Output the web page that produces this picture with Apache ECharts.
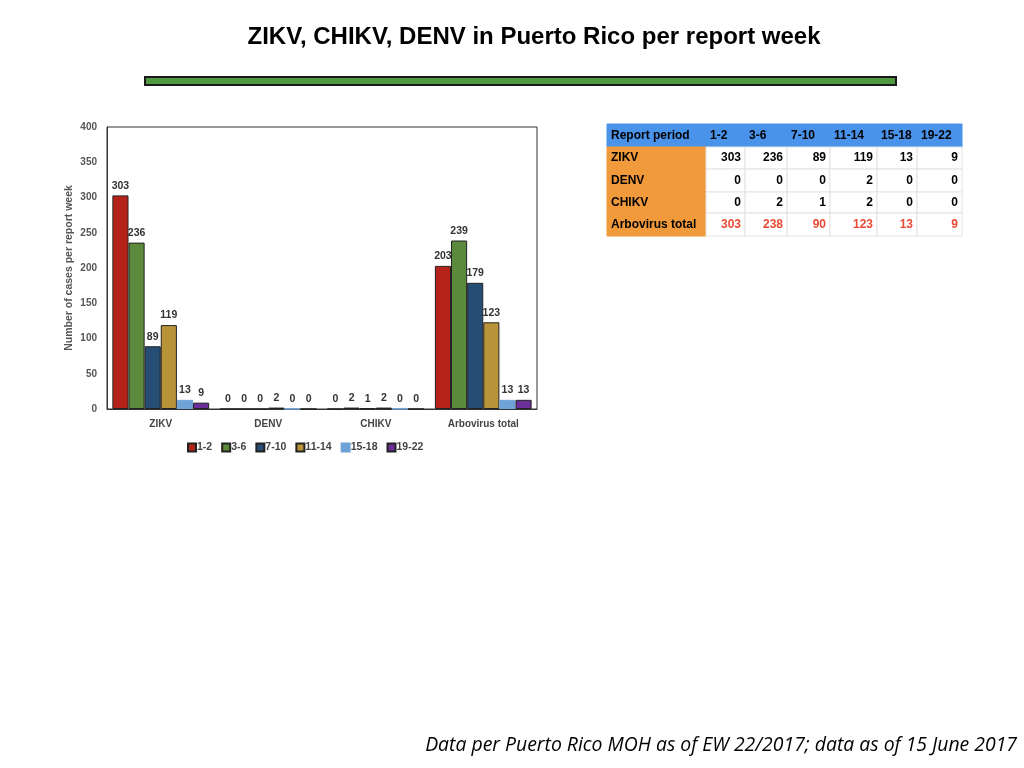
<!DOCTYPE html>
<html><head><meta charset="utf-8">
<script src="https://cdn.jsdelivr.net/npm/echarts@6/dist/echarts.min.js"></script>
<style>html,body{margin:0;padding:0;background:#fff}#c{width:1024px;height:768px}</style>
</head><body><div id="c"></div>
<script>
const categories = ['ZIKV', 'DENV', 'CHIKV', 'Arbovirus total'];
const periods = ['1-2', '3-6', '7-10', '11-14', '15-18', '19-22'];
const s12 = [303, 0, 0, 203];
const s36 = [236, 0, 2, 239];
const s710 = [89, 0, 1, 179];
const s1114 = [119, 2, 2, 123];
const s1518 = [13, 0, 0, 13];
const s1922 = [9, 0, 0, 13];
const seriesValues = [s12, s36, s710, s1114, s1518, s1922];
const colors = ['#b5221a', '#5b8a3c', '#264d73', '#b8933a', '#6fa3d8', '#6b2f9a'];
const borders = ['#222', '#222', '#222', '#222', '#6fa3d8', '#222'];
const yTicks = [0, 50, 100, 150, 200, 250, 300, 350, 400];

const tableHeader = ['Report period', '1-2', '3-6', '7-10', '11-14', '15-18', '19-22'];
const tableRowNames = ['ZIKV', 'DENV', 'CHIKV', 'Arbovirus total'];
const tableZIKV = [303, 236, 89, 119, 13, 9];
const tableDENV = [0, 0, 0, 2, 0, 0];
const tableCHIKV = [0, 2, 1, 2, 0, 0];
const tableTotal = [303, 238, 90, 123, 13, 9];
const tableRows = [tableZIKV, tableDENV, tableCHIKV, tableTotal];

const colX = [607, 706, 745, 787, 830, 877, 917, 962];
const rowY = [124, 147, 169, 192, 213, 236];
const FONT = '"Liberation Sans", Arial, sans-serif';

const graphic = [];
graphic.push({type:'text', x: 534, y: 37, style:{text:'ZIKV, CHIKV, DENV in Puerto Rico per report week', font:'bold 24px ' + FONT, fill:'#000', textAlign:'center', textVerticalAlign:'middle'}});
graphic.push({type:'rect', shape:{x:145, y:77, width:751, height:8}, style:{fill:'#4f9a40', stroke:'#1a1a1a', lineWidth:2}});
for (let r = 0; r < 5; r++) {
  for (let c = 0; c < 7; c++) {
    let fill = '#fff';
    if (r === 0) fill = '#4a93ea';
    else if (c === 0) fill = '#f09a3c';
    graphic.push({type:'rect', shape:{x:colX[c], y:rowY[r], width:colX[c+1]-colX[c], height:rowY[r+1]-rowY[r]}, style:{fill:fill, stroke: r===0||c===0 ? fill : '#e2e2e2', lineWidth:1}});
    let txt, align, color = '#000';
    if (r === 0) { txt = tableHeader[c]; align = 'left'; }
    else if (c === 0) { txt = tableRowNames[r-1]; align = 'left'; }
    else { txt = String(tableRows[r-1][c-1]); align = 'right'; if (r === 4) color = '#e84a33'; }
    const yMid = (rowY[r] + rowY[r+1]) / 2;
    graphic.push({type:'text', x: align === 'left' ? colX[c] + 4 : colX[c+1] - 4, y: yMid,
      style:{text: txt, font:'bold 12px ' + FONT, fill: color, textAlign: align, textVerticalAlign:'middle'}});
  }
}
graphic.push({type:'text', x: 1017, y: 745, style:{text:'Data per Puerto Rico MOH as of EW 22/2017; data as of 15 June 2017', font:'italic 19.4px "Open Sans", "Noto Sans", sans-serif', fill:'#000', textAlign:'right', textVerticalAlign:'middle'}});

const chart = echarts.init(document.getElementById('c'));
chart.setOption({
  animation: false,
  backgroundColor: '#fff',
  graphic: graphic,
  grid: {left:107, right:487, top:127, bottom:359, show:true, borderColor:'#333', borderWidth:1, backgroundColor:'transparent'},
  legend: {
    data: periods, left: 182, top: 437, itemWidth: 8, itemHeight: 8, itemGap: 9,
    icon: 'rect',
    textStyle: {fontSize: 10.5, fontWeight: 'bold', color: '#444', fontFamily: FONT, padding:[0,0,0,-4]}
  },
  xAxis: {
    type: 'category', data: categories,
    axisLine: {lineStyle: {color: '#333'}}, axisTick: {show: false},
    axisLabel: {fontSize: 10, fontWeight: 'bold', color: '#444', margin: 10, fontFamily: FONT}
  },
  yAxis: {
    type: 'value', min: 0, max: 400, interval: 50,
    name: 'Number of cases per report week', nameLocation: 'middle', nameGap: 32,
    nameTextStyle: {fontSize: 10.5, fontWeight: 'bold', color: '#555', fontFamily: FONT},
    axisLine: {show: true, lineStyle: {color: '#333'}}, axisTick: {show: false}, splitLine: {show: false},
    axisLabel: {fontSize: 10, fontWeight: 'bold', color: '#555', margin: 10, fontFamily: FONT,
      formatter: v => yTicks.includes(v) ? String(v) : ''}
  },
  series: periods.map((p, i) => ({
    name: p, type: 'bar', data: seriesValues[i], barGap: '0%', barCategoryGap: '10%',
    itemStyle: {color: colors[i], borderColor: borders[i], borderWidth: 1},
    label: {show: true, position: 'top', distance: 4, fontSize: 10.5, fontWeight: 'bold', color: '#333', fontFamily: FONT}
  }))
});
</script></body></html>
